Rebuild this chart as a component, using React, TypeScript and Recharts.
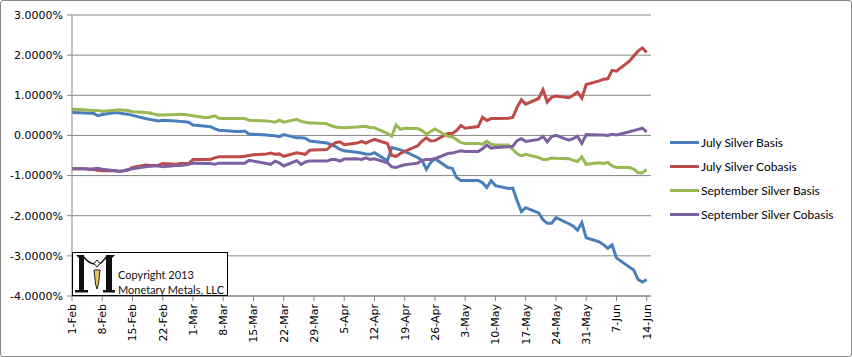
import { LineChart, Line, XAxis, YAxis, CartesianGrid } from "recharts";

// business days, counted from 1 Feb 2013
const days = [
  0, 3, 4, 5, 6, 7, 10, 11, 12, 13, 14, 17, 18, 19, 20, 21, 24, 25, 26, 27, 28,
  31, 32, 33, 34, 35, 38, 39, 40, 41, 42, 45, 46, 47, 48, 49, 52, 53, 54, 55, 56,
  59, 60, 61, 62, 63, 66, 67, 68, 69, 70, 73, 74, 75, 76, 77, 80, 81, 82, 83, 84,
  87, 88, 89, 90, 91, 94, 95, 96, 97, 98, 101, 102, 103, 104, 105, 108, 109, 110, 111, 112,
  115, 116, 117, 118, 119, 122, 123, 124, 125, 126, 129, 130, 131, 132, 133,
];

// values in percent
const julyBasis = [
  0.57, 0.56, 0.55, 0.55, 0.49, 0.52, 0.57, 0.56, 0.54, 0.53, 0.5, 0.42, 0.4, 0.38, 0.36, 0.38,
  0.36, 0.35, 0.34, 0.33, 0.26, 0.23, 0.22, 0.17, 0.13, 0.12, 0.1, 0.1, 0.11, 0.03, 0.03,
  0.01, 0.0, -0.01, -0.03, 0.02, -0.06, -0.06, -0.07, -0.14, -0.15, -0.19, -0.23, -0.28, -0.35, -0.38,
  -0.42, -0.44, -0.46, -0.47, -0.43, -0.63, -0.3, -0.33, -0.36, -0.4, -0.55, -0.62, -0.84, -0.68, -0.58,
  -0.8, -0.82, -1.05, -1.12, -1.12, -1.12, -1.18, -1.3, -1.13, -1.25, -1.32, -1.31, -1.62, -1.9, -1.8,
  -1.93, -2.1, -2.19, -2.19, -2.05, -2.2, -2.26, -2.36, -2.17, -2.55, -2.65, -2.72, -2.81, -2.73, -3.05,
  -3.28, -3.35, -3.59, -3.65, -3.59,
];
const julyCobasis = [
  -0.83, -0.83, -0.84, -0.85, -0.87, -0.88, -0.88, -0.89, -0.88, -0.86, -0.8, -0.74, -0.75, -0.75, -0.74, -0.7,
  -0.72, -0.7, -0.7, -0.7, -0.6, -0.6, -0.6, -0.56, -0.53, -0.53, -0.53, -0.53, -0.52, -0.5, -0.48,
  -0.46, -0.44, -0.47, -0.46, -0.52, -0.43, -0.45, -0.47, -0.37, -0.36, -0.35, -0.25, -0.18, -0.16, -0.23,
  -0.19, -0.15, -0.19, -0.14, -0.1, -0.2, -0.5, -0.52, -0.45, -0.4, -0.26, -0.14, -0.06, -0.14, -0.13,
  0.05, 0.05, 0.12, 0.25, 0.18, 0.22, 0.45, 0.37, 0.42, 0.42, 0.43, 0.45, 0.7, 0.89, 0.78,
  0.92, 1.14, 0.83, 0.95, 0.98, 0.94, 1.0, 1.08, 0.93, 1.27, 1.36, 1.4, 1.41, 1.62, 1.6,
  1.85, 1.98, 2.1, 2.18, 2.07,
];
const septBasis = [
  0.65, 0.64, 0.63, 0.62, 0.62, 0.6, 0.63, 0.64, 0.63, 0.62, 0.59, 0.57, 0.56, 0.53, 0.51, 0.51,
  0.52, 0.53, 0.52, 0.51, 0.49, 0.44, 0.46, 0.49, 0.43, 0.42, 0.42, 0.42, 0.42, 0.38, 0.37,
  0.36, 0.35, 0.33, 0.38, 0.33, 0.4, 0.35, 0.33, 0.31, 0.31, 0.29, 0.24, 0.21, 0.2, 0.19,
  0.21, 0.22, 0.22, 0.2, 0.19, 0.05, -0.02, 0.26, 0.15, 0.18, 0.17, 0.12, 0.03, 0.1, 0.16,
  -0.02, -0.04, -0.1, -0.18, -0.2, -0.2, -0.22, -0.14, -0.22, -0.24, -0.24, -0.35, -0.45, -0.51, -0.47,
  -0.55, -0.6, -0.6, -0.56, -0.57, -0.58, -0.62, -0.65, -0.53, -0.72, -0.68, -0.7, -0.67, -0.76, -0.8,
  -0.8, -0.84, -0.93, -0.93, -0.85,
];
const septCobasis = [
  -0.83, -0.83, -0.84, -0.83, -0.82, -0.84, -0.88, -0.9, -0.88, -0.85, -0.83, -0.78, -0.77, -0.76, -0.76, -0.78,
  -0.75, -0.75, -0.74, -0.72, -0.69, -0.7, -0.7, -0.72, -0.69, -0.69, -0.69, -0.69, -0.69, -0.62, -0.64,
  -0.7, -0.72, -0.64, -0.68, -0.76, -0.63, -0.72, -0.66, -0.64, -0.64, -0.64, -0.6, -0.6, -0.64, -0.59,
  -0.58, -0.6, -0.56, -0.6, -0.58, -0.68, -0.78, -0.8, -0.76, -0.73, -0.69, -0.62, -0.6, -0.6, -0.58,
  -0.45, -0.44, -0.41, -0.38, -0.4, -0.4, -0.33, -0.24, -0.32, -0.3, -0.28, -0.27, -0.13, -0.08, -0.15,
  -0.1, -0.02, -0.16, -0.03, 0.0, -0.12, -0.08, -0.02, -0.2, 0.02, 0.01, 0.01, 0.0, 0.03, 0.01,
  0.09, 0.12, 0.15, 0.18, 0.09,
];

const tickDays = [0, 7, 14, 21, 28, 35, 42, 49, 56, 63, 70, 77, 84, 91, 98, 105, 112, 119, 126, 133];
const tickLabels = [
  "1-Feb", "8-Feb", "15-Feb", "22-Feb", "1-Mar", "8-Mar", "15-Mar", "22-Mar", "29-Mar", "5-Apr",
  "12-Apr", "19-Apr", "26-Apr", "3-May", "10-May", "17-May", "24-May", "31-May", "7-Jun", "14-Jun",
];
const yTicks = [-4, -3, -2, -1, 0, 1, 2, 3];

const series = [
  { key: "julyBasis", name: "July Silver Basis", color: "#4a7ebb" },
  { key: "julyCobasis", name: "July Silver Cobasis", color: "#be4b48" },
  { key: "septBasis", name: "September Silver Basis", color: "#98b954" },
  { key: "septCobasis", name: "September Silver Cobasis", color: "#7d60a0" },
];

const data = days.map((day, i) => ({
  day,
  julyBasis: julyBasis[i],
  julyCobasis: julyCobasis[i],
  septBasis: septBasis[i],
  septCobasis: septCobasis[i],
}));

const gray = "#868686";

function DateTick({ x, y, payload }: any) {
  const label = tickLabels[tickDays.indexOf(payload.value)];
  return (
    <text
      transform={`translate(${x + 4},${y}) rotate(-90)`}
      textAnchor="end"
      fontSize={11}
      fontFamily="DejaVu Sans"
      fill="#000"
    >
      {label}
    </text>
  );
}

function Logo() {
  return (
    <svg width={46} height={41} style={{ position: "absolute", left: 0, top: 0 }}>
      <polygon points="3,2 11,2 11,39 6,39 6,5" fill="#111" />
      <rect x={2} y={37} width={13} height={2.5} fill="#111" />
      <polygon points="33,2 42,2 39,5 39,39 33,39" fill="#111" />
      <rect x={30} y={37} width={12} height={2.5} fill="#111" />
      <path d="M10,3 Q16,11 22,11" stroke="#111" strokeWidth={1.3} fill="none" />
      <path d="M34,3 Q28,11 26,11" stroke="#111" strokeWidth={1.3} fill="none" />
      <polygon points="24,7 27,10.5 24,14 21,10.5" fill="#fff" stroke="#111" strokeWidth={1} />
      <polygon points="21,17 27,17 25.5,31 24,36 22.5,31" fill="#e9c25a" stroke="#111" strokeWidth={0.9} />
    </svg>
  );
}

export default function App() {
  return (
    <div
      style={{
        position: "absolute",
        left: 0,
        top: 0,
        width: 852,
        height: 357,
        boxSizing: "border-box",
        border: "1px solid #8a8a8a",
        borderRadius: 3,
        background: "#fff",
      }}
    >
      <div style={{ position: "absolute", left: -1, top: -1 }}>
        <LineChart width={852} height={357} data={data} margin={{ top: 15, right: 201, bottom: 0, left: 8 }}>
          <CartesianGrid vertical={false} stroke={gray} strokeWidth={1} />
          <XAxis
            dataKey="day"
            type="number"
            domain={[0, 134]}
            ticks={tickDays}
            interval={0}
            height={61}
            tickSize={5}
            tickMargin={3}
            axisLine={{ stroke: gray }}
            tickLine={{ stroke: gray }}
            tick={<DateTick />}
          />
          <YAxis
            type="number"
            domain={[-4, 3]}
            ticks={yTicks}
            interval={0}
            width={64}
            tickSize={5}
            tickMargin={4}
            axisLine={{ stroke: gray }}
            tickLine={{ stroke: gray }}
            tick={{ fontSize: 11, fontFamily: "DejaVu Sans", fill: "#000" }}
            tickFormatter={(v: number) => `${v.toFixed(4)}%`}
          />
          {series.map((s) => (
            <Line
              key={s.key}
              dataKey={s.key}
              name={s.name}
              stroke={s.color}
              strokeWidth={3}
              dot={false}
              type="linear"
              isAnimationActive={false}
            />
          ))}
        </LineChart>
      </div>

      <div style={{ position: "absolute", left: 669, top: 129, fontFamily: "Lato", fontSize: 12, color: "#000" }}>
        {series.map((s) => (
          <div key={s.key} style={{ height: 24, display: "flex", alignItems: "center" }}>
            <span style={{ display: "inline-block", width: 29, height: 3, background: s.color, marginRight: 2 }} />
            <span>{s.name}</span>
          </div>
        ))}
      </div>

      <div
        style={{
          position: "absolute",
          left: 71,
          top: 251,
          width: 156,
          height: 44,
          boxSizing: "border-box",
          border: "1px solid #000",
          background: "#fff",
          fontFamily: "Lato",
          fontSize: 11,
          color: "#111",
        }}
      >
        <Logo />
        <div style={{ position: "absolute", left: 45, top: 14, lineHeight: "15px", whiteSpace: "nowrap" }}>
          Copyright 2013
          <br />
          Monetary Metals, LLC
        </div>
      </div>
    </div>
  );
}
